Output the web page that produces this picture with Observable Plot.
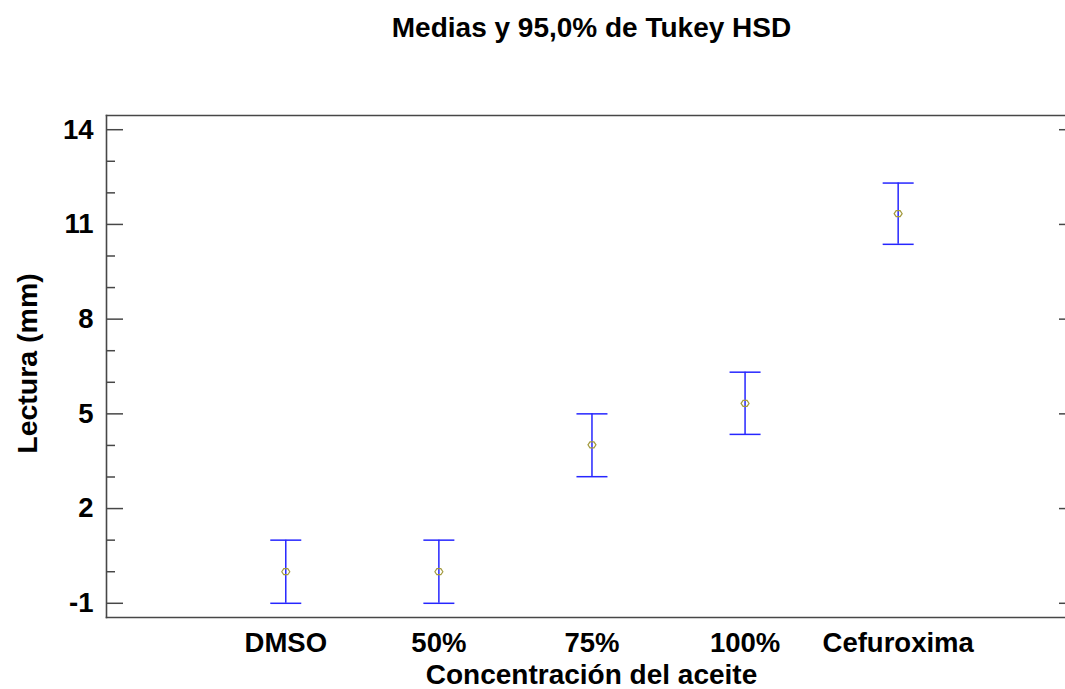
<!DOCTYPE html>
<html>
<head>
<meta charset="utf-8">
<script src="https://cdn.jsdelivr.net/npm/d3@7"></script>
<script src="https://cdn.jsdelivr.net/npm/@observablehq/plot@0.6"></script>
<style>
  html, body { margin: 0; padding: 0; background: #fff; overflow: hidden; }
  svg { display: block; }
</style>
</head>
<body>
<div id="chart"></div>
<script>
// ---- data ----
const categories = ["DMSO", "50%", "75%", "100%", "Cefuroxima"];
const means = [0.0, 0.0, 4.02, 5.33, 11.34];
const lower = [-1.0, -1.0, 3.01, 4.35, 10.37];
const upper = [1.0, 1.0, 5.0, 6.32, 12.31];
const majorTicks = [-1, 2, 5, 8, 11, 14];
const minorTicks = [0, 1, 3, 4, 6, 7, 9, 10, 12, 13];
const title = "Medias y 95,0% de Tukey HSD";
const xLabel = "Concentración del aceite";
const yLabel = "Lectura (mm)";

const rows = categories.map((c, i) => ({i: i + 1, name: c, mean: means[i], lo: lower[i], hi: upper[i]}));

const blue = "#2626ff";
const axisGray = "#474747";

const capSymbol = {
  draw(ctx) { ctx.moveTo(-15.5, 0); ctx.lineTo(15.5, 0); }
};
const meanSymbol = {
  draw(ctx) {
    ctx.moveTo(-4, 0); ctx.lineTo(-2, -3); ctx.lineTo(2, -3);
    ctx.lineTo(4, 0); ctx.lineTo(2, 3); ctx.lineTo(-2, 3); ctx.closePath();
  }
};

const W = 1065, H = 689;
const mL = 106, mR = 0, mT = 115, mB = 72;
const frameW = W - mL - mR;
// frame centre of the (partly off-picture) full plot box, for centring the title/label
const centreShift = 5.5;

const chart = Plot.plot({
  width: W,
  height: H,
  marginLeft: mL,
  marginRight: mR,
  marginTop: mT,
  marginBottom: mB,
  style: {
    fontFamily: "'Liberation Sans', Arial, sans-serif",
    fontWeight: "bold",
    fontSize: "27.5px",
    color: "#000",
    background: "#fff",
    overflow: "hidden"
  },
  x: {type: "linear", domain: [-0.171, 6.093]},
  y: {domain: [-1.45, 14.45]},
  marks: [
    Plot.frame({anchor: "top", stroke: axisGray, strokeWidth: 1.6}),
    Plot.frame({anchor: "bottom", stroke: axisGray, strokeWidth: 1.6}),
    Plot.frame({anchor: "left", stroke: axisGray, strokeWidth: 1.6}),
    // left major / minor ticks (inward)
    Plot.tickY(majorTicks, {y: d => d, insetRight: frameW - 17, stroke: axisGray, strokeWidth: 1.5}),
    Plot.tickY(minorTicks, {y: d => d, insetRight: frameW - 9, stroke: axisGray, strokeWidth: 1.5}),
    // right major ticks (inward, box edge lies just beyond the picture)
    Plot.tickY(majorTicks, {y: d => d, insetLeft: frameW - 6, stroke: axisGray, strokeWidth: 1.5}),
    Plot.axisY({ticks: majorTicks, tickSize: 0, tickPadding: 13, tickFormat: d => String(d), label: null, fontSize: 27.5}),
    Plot.axisX({ticks: [1, 2, 3, 4, 5], tickSize: 0, tickPadding: 15, tickFormat: d => categories[d - 1], label: null, fontSize: 27.5}),
    // error bars
    Plot.ruleX(rows, {x: "i", y1: "lo", y2: "hi", stroke: blue, strokeWidth: 1.5}),
    Plot.dot(rows, {x: "i", y: "lo", symbol: capSymbol, stroke: blue, strokeWidth: 1.5, r: 4}),
    Plot.dot(rows, {x: "i", y: "hi", symbol: capSymbol, stroke: blue, strokeWidth: 1.5, r: 4}),
    Plot.dot(rows, {x: "i", y: "mean", symbol: meanSymbol, stroke: "#a39a3e", strokeWidth: 1.2, fill: "none", r: 4}),
    // titles
    Plot.text([title], {text: d => d, frameAnchor: "top", lineAnchor: "middle", textAnchor: "middle", dx: centreShift, dy: -87, fontSize: 28, fill: "#000"}),
    Plot.text([xLabel], {text: d => d, frameAnchor: "bottom", lineAnchor: "middle", textAnchor: "middle", dx: centreShift, dy: 58, fontSize: 28, fill: "#000"}),
    Plot.text([yLabel], {text: d => d, frameAnchor: "left", lineAnchor: "middle", textAnchor: "middle", dx: -79, dy: -3, rotate: -90, fontSize: 28.5, fill: "#000"})
  ]
});
document.getElementById("chart").appendChild(chart);
</script>
</body>
</html>
